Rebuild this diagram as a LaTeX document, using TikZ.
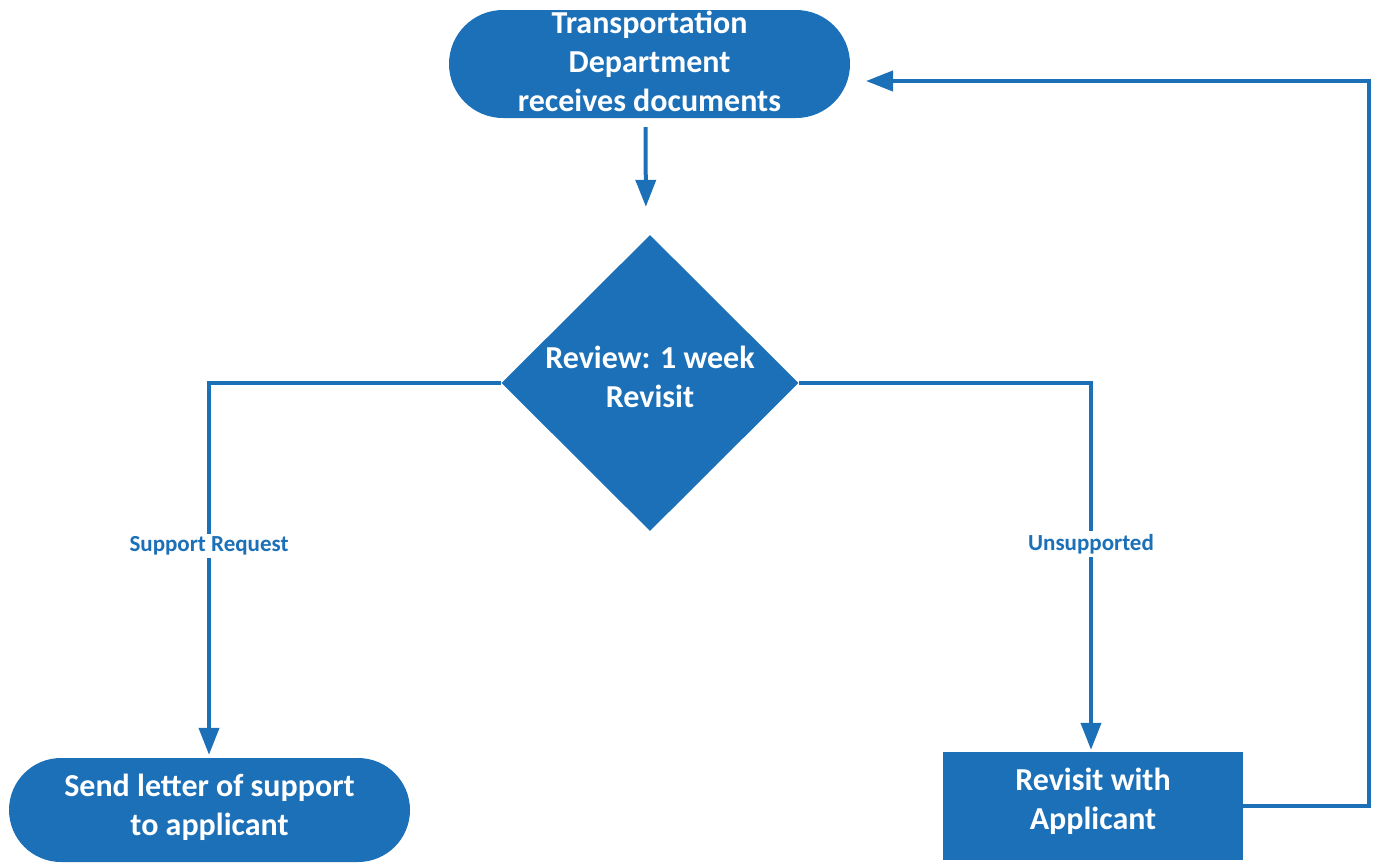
\documentclass[tikz,border=0pt]{standalone}
\usepackage{fontspec}
\setmainfont{Carlito}
\usetikzlibrary{arrows.meta,shapes.geometric}
\definecolor{fc}{RGB}{27,112,184}
\begin{document}
\begin{tikzpicture}[x=1pt,y=-1pt,
  every node/.style={font=\bfseries},
  bigtxt/.style={font=\bfseries\fontsize{32}{39}\selectfont, text=white, align=center, inner sep=0pt},
  term/.style={fill=fc, rounded corners=#1, inner sep=0pt},
  boxnode/.style={fill=fc, inner sep=0pt, minimum width=300pt, minimum height=108pt},
  dia/.style={fill=fc, diamond, aspect=1, inner sep=0pt, minimum width=297pt, minimum height=296pt},
  conn/.style={draw=fc, line width=4pt},
  arr/.style={conn, -{Triangle[length=27pt,width=20pt]}},
  lbl/.style={font=\bfseries\fontsize{23}{26}\selectfont, text=fc, fill=white, inner sep=3pt}
]
\useasboundingbox (0,0) rectangle (1376,863);
\node[term=54pt, minimum width=401pt, minimum height=108pt] (top) at (649.5,64) {};
\node[bigtxt] (topt) at (649.5,61) {Transportation\\Department\\receives documents};
\node[dia] (rev) at (650,383) {};
\node[bigtxt] (revt) at (650,377) {Review: 1 week\\Revisit};
\node[term=52pt, minimum width=401pt, minimum height=104pt] (send) at (209.5,810) {};
\node[bigtxt] (sendt) at (209.5,807) {Send letter of support\\to applicant};
\node[boxnode] (rwa) at (1093,806) {};
\node[bigtxt] (rwat) at (1093,801.5) {Revisit with\\Applicant};
\coordinate (lc) at (209,383);
\coordinate (rc) at (1091,383);
\coordinate (c1) at (1369,806);
\coordinate (c2) at (1369,81);
\coordinate (c3) at (850,81);
\draw[arr, shorten <=9pt, shorten >=28pt] ([xshift=-4pt]top.south) -- ([xshift=-4pt]rev.north);
\draw[arr, shorten >=3pt] (rev.west) -- (lc) -- (lc |- send.north) node[lbl, pos=0.435] {Support Request};
\draw[arr, shorten >=2pt] (rev.east) -- (rc) -- (rc |- rwa.north) node[lbl, pos=0.437] {Unsupported};
\draw[arr, shorten >=16pt] (rwa.east) -- (c1) -- (c2) -- (c3);
\end{tikzpicture}
\end{document}
